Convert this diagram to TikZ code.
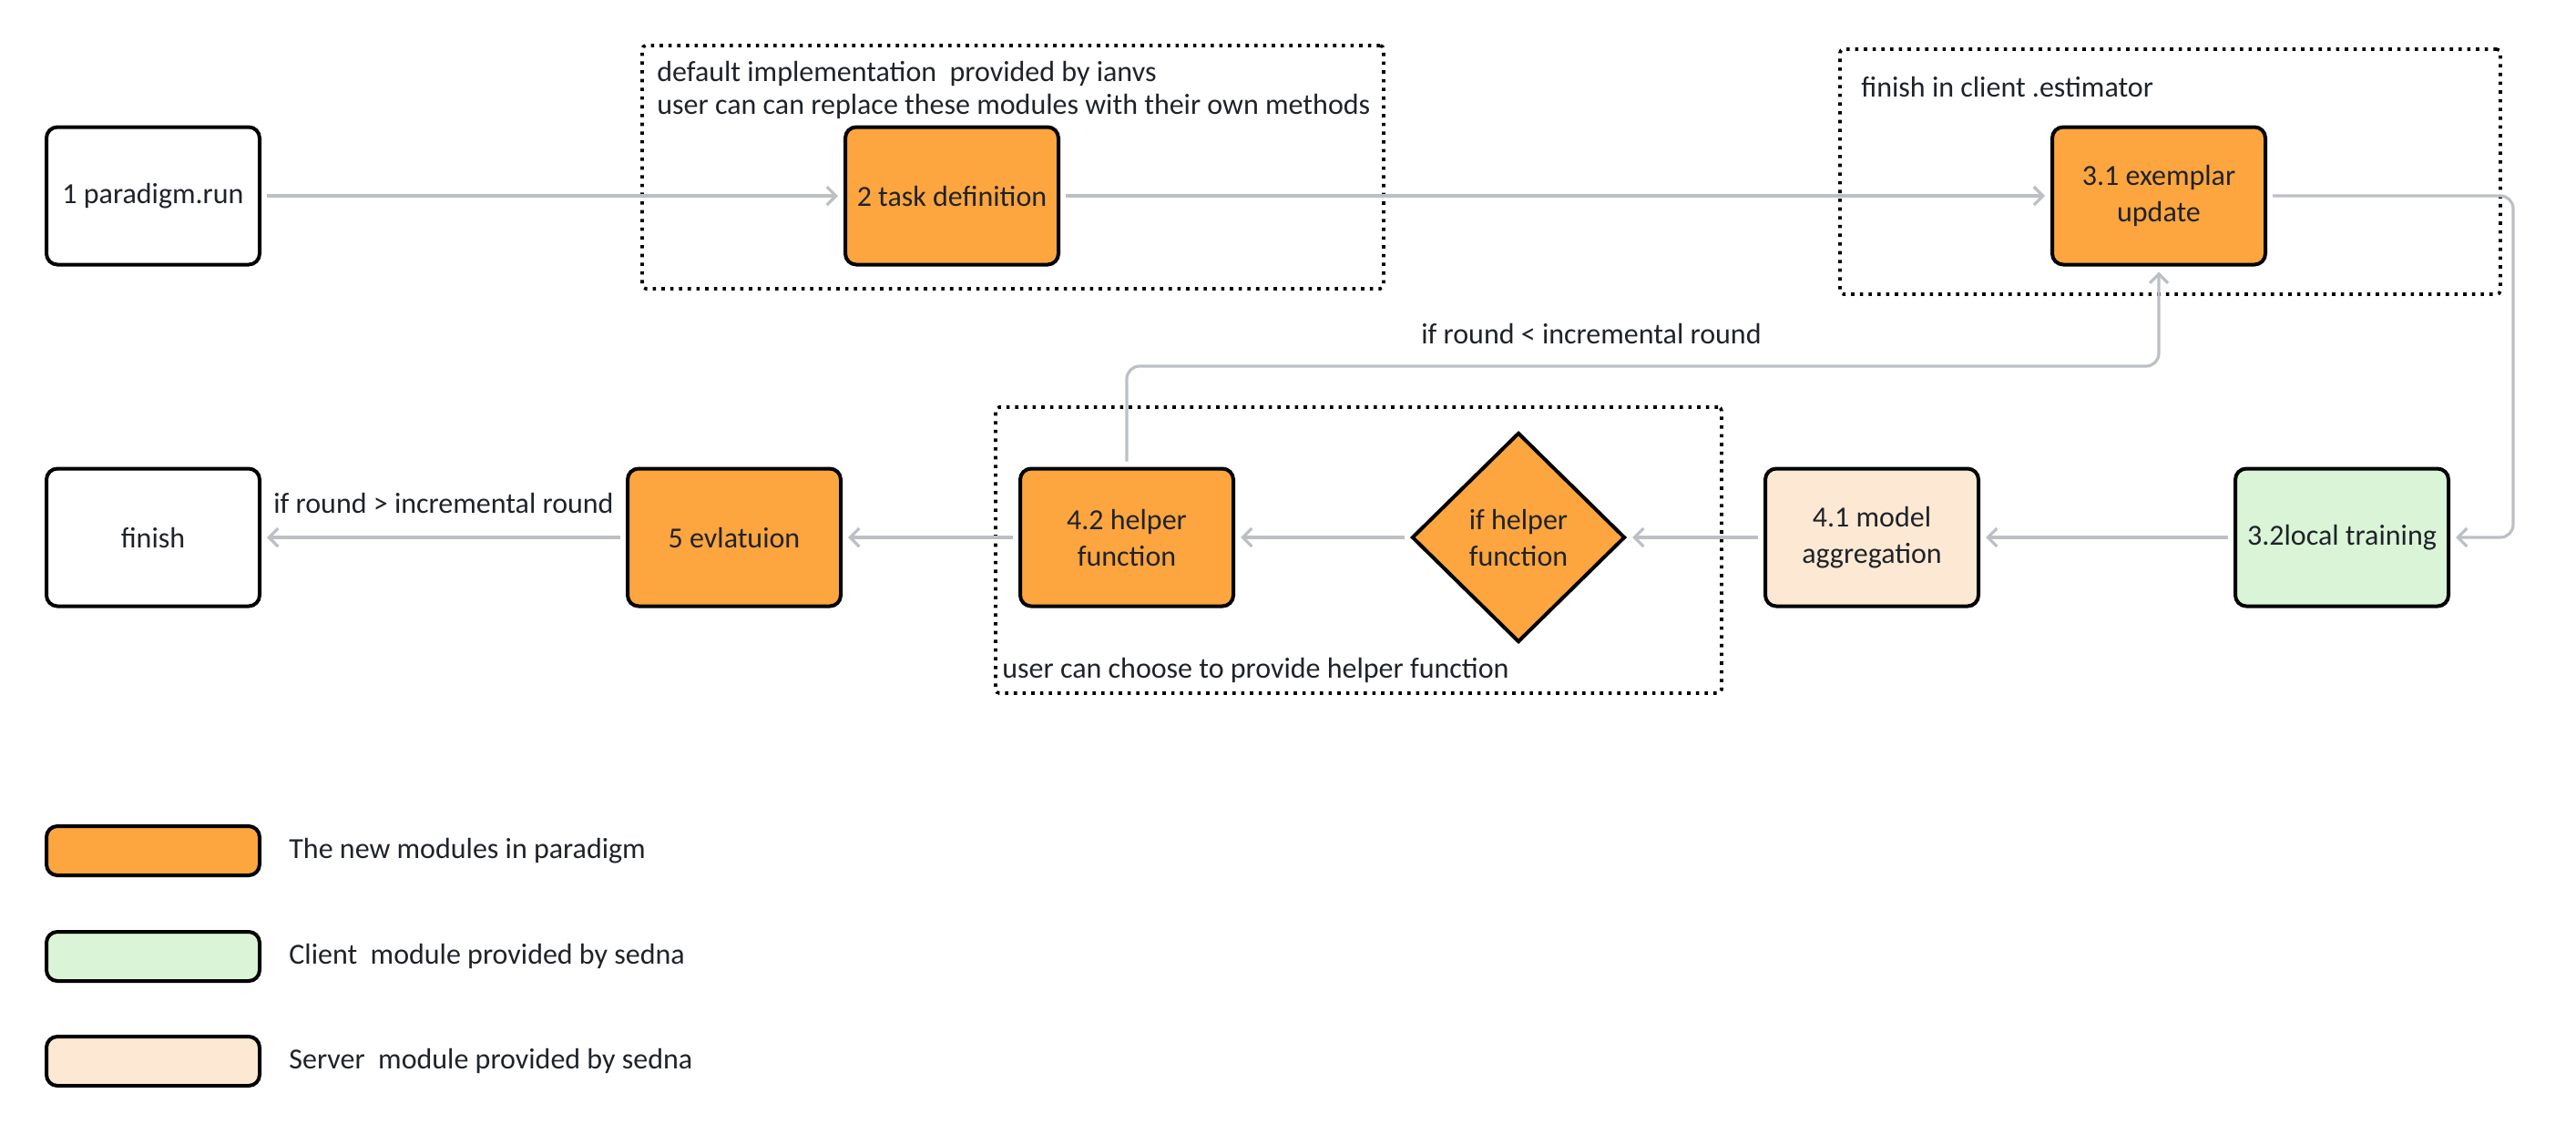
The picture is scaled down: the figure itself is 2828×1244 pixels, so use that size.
\documentclass[tikz,border=0pt]{standalone}
\usepackage{fontspec}
\setmainfont{Carlito}
\usetikzlibrary{arrows.meta,shapes.geometric}
\definecolor{orng}{HTML}{FDA53E}
\definecolor{grn}{HTML}{D9F4D6}
\definecolor{peach}{HTML}{FDE9D3}
\definecolor{txt}{HTML}{1F2329}
\definecolor{conngray}{HTML}{BCBFC4}
\tikzset{
  box/.style={draw=black, line width=2pt, rounded corners=6pt, minimum width=117pt, minimum height=75.5pt, align=center, text=txt, font=\fontsize{16}{20}\selectfont, inner sep=2pt},
  legbox/.style={draw=black, line width=2pt, rounded corners=6pt, minimum width=117pt, minimum height=27pt, inner sep=0pt},
  dia/.style={draw=black, line width=2pt, diamond, fill=orng, minimum width=117pt, minimum height=115pt, inner sep=0pt, align=center, text=txt, font=\fontsize{16}{20}\selectfont},
  region/.style={draw=black, line width=1.8pt, dash pattern=on 1.8pt off 3pt, rounded corners=2pt, inner sep=0pt},
  conn/.style={draw=conngray, line width=1.6pt, rounded corners=7pt, -{Straight Barb[length=5pt,width=10pt]}, shorten <=3pt, shorten >=3pt},
  lbl/.style={text=txt, font=\fontsize{16}{20}\selectfont, inner sep=0pt}
}
\begin{document}
\begin{tikzpicture}[x=0.5pt,y=-0.5pt]
\useasboundingbox (0,0) rectangle (2828,1244);
% regions
\node[region, minimum width=407pt, minimum height=133.5pt] (r1) at (1112,183.5) {};
\node[region, minimum width=362.5pt, minimum height=134.5pt] (r2) at (2382.5,188.5) {};
\node[region, minimum width=398.5pt, minimum height=157pt] (r3) at (1491.5,604) {};
\node[lbl, anchor=west] (t1) at (721,81) {default implementation\ \ provided by ianvs};
\node[lbl, anchor=west] (t2) at (721,117) {user can can replace these modules with their own methods};
\node[lbl, anchor=west] (t3) at (2043,96) {finish in client .estimator};
\node[lbl, anchor=west] (t4) at (1100,736) {user can choose to provide helper function};
% nodes
\node[box, fill=white] (b1) at (168,215) {1 paradigm.run};
\node[box, fill=orng] (b2) at (1045,215) {2 task definition};
\node[box, fill=orng] (b31) at (2370,215) {3.1 exemplar\\update};
\node[box, fill=grn] (b32) at (2571,590) {3.2local training};
\node[box, fill=peach] (b41) at (2055,590) {4.1 model\\aggregation};
\node[dia] (d) at (1667,590) {if helper\\function};
\node[box, fill=orng] (b42) at (1237,590) {4.2 helper\\function};
\node[box, fill=orng] (b5) at (806,590) {5 evlatuion};
\node[box, fill=white] (fin) at (168,590) {finish};
% connectors
\coordinate (rt) at (2759,400);
\coordinate (lp) at (1800,402);
\draw[conn] (b1) -- (b2);
\draw[conn] (b2) -- (b31);
\draw[conn] (b31.east) -| (rt) |- (b32.east);
\draw[conn] (b32) -- (b41);
\draw[conn] (b41) -- (d);
\draw[conn] (d) -- (b42);
\draw[conn] (b42) -- (b5);
\draw[conn] (b5) -- (fin);
\draw[conn] (b42.north) |- (lp) -| (b31.south);
\node[lbl] (l1) at (1747,366) {if round < incremental round};
\node[lbl] (l2) at (487,552) {if round > incremental round};
% legend
\node[legbox, fill=orng] (g1) at (168,934) {};
\node[legbox, fill=grn] (g2) at (168,1050) {};
\node[legbox, fill=peach] (g3) at (168,1165) {};
\node[lbl, anchor=west] (g1t) at (317,934) {The new modules in paradigm};
\node[lbl, anchor=west] (g2t) at (317,1050) {Client\ \ module provided by sedna};
\node[lbl, anchor=west] (g3t) at (317,1165) {Server\ \ module provided by sedna};
\end{tikzpicture}
\end{document}
